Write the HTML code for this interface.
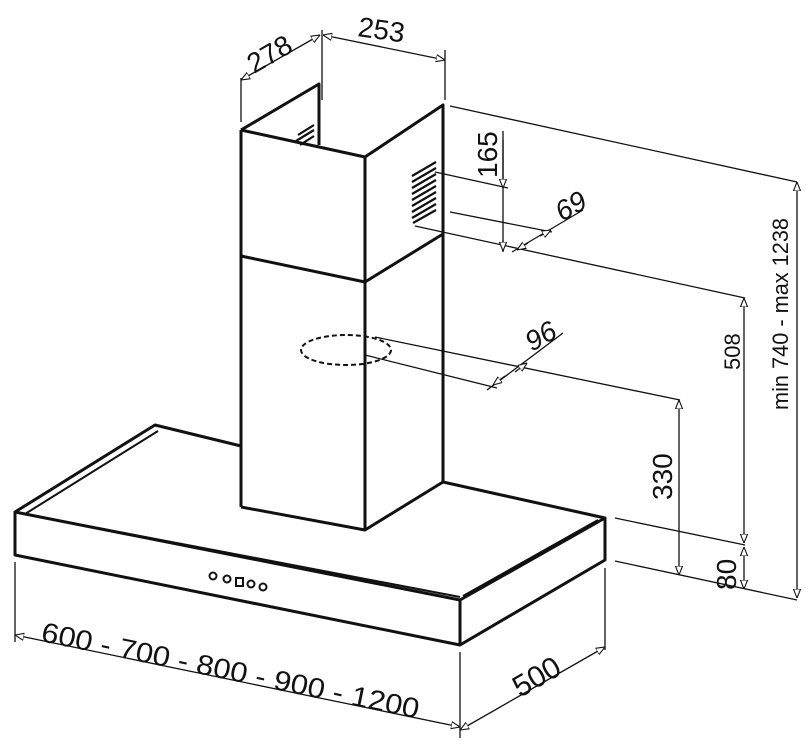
<!DOCTYPE html>
<html><head><style>
html,body{margin:0;padding:0;background:#fff;}
svg{display:block;}
text{font-family:"Liberation Sans",Arial,sans-serif;fill:#111;}
</style></head><body>
<svg width="806" height="746" viewBox="0 0 806 746" xmlns="http://www.w3.org/2000/svg">
<defs>
<marker id="a" viewBox="0 0 10 10" refX="10" refY="5" markerWidth="9" markerHeight="9" orient="auto-start-reverse" markerUnits="userSpaceOnUse">
<path d="M0,1 L10,5 L0,9 Z" fill="#fff" stroke="#111" stroke-width="1.2"/>
</marker>
</defs>
<g fill="none" stroke="#111" stroke-width="3" stroke-linejoin="round">
<path d="M241,130 L319,84 L319,145"/>
<path d="M241,130 L365,157 L443,105 L443,482"/>
<path d="M241,130 L241,507"/>
<path d="M365,157 L365,530"/>
<path d="M241,256 L365,282 L443,234"/>
<path d="M241,507 L365,530 L443,482"/>
<path d="M241,446 L155,425 L15,512 L460,600 L605,518 L443,482"/>
<path d="M15,512 L15,555 L460,645 L605,560 L605,518"/>
<path d="M460,600 L460,645"/>
<path d="M158,431 L25,514 M25,514 L460,597" stroke-width="2"/>
<path d="M463,596 L598,520" stroke-width="2"/>
</g>
<g stroke="#111" stroke-width="2.2">
<path d="M298,135 L314,125 M296,141 L314,130 M300,145 L314,136"/>
<path d="M412,176 L436,162 M412,182 L436,168 M412,188 L436,174 M412,194 L436,180 M412,200 L436,186 M412,206 L436,192 M412,212 L436,198 M412,218 L436,204 M413,223 L436,210"/>
</g>
<g fill="none" stroke="#111" stroke-width="2">
<circle cx="213" cy="576" r="3.5"/><circle cx="227" cy="579" r="3.5"/>
<rect x="236" y="578" width="7" height="8"/>
<circle cx="251" cy="584" r="3.5"/><circle cx="263" cy="587" r="3.5"/>
</g>
<ellipse cx="346" cy="350" rx="45" ry="15" fill="none" stroke="#111" stroke-width="2" stroke-dasharray="5,3"/>
<g fill="none" stroke="#111" stroke-width="1.3">
<path d="M241,78 L241,122 M322,30 L322,100 M445,50 L445,100"/>
<path d="M450,106 L797,182"/>
<path d="M435,172 L508,188"/>
<path d="M450,212 L552,232"/>
<path d="M415,226 L745,298"/>
<path d="M375,337 L680,400"/>
<path d="M365,355 L497,388"/>
<path d="M615,518 L745,545"/>
<path d="M615,561 L797,600"/>
<path d="M15,562 L15,642 M460,652 L460,738 M605,568 L605,650"/>
<path d="M503,131 L503,252"/>
</g>
<g fill="none" stroke="#111" stroke-width="1.3">
<line x1="241" y1="80" x2="320" y2="35" marker-start="url(#a)" marker-end="url(#a)"/>
<line x1="323" y1="35" x2="445" y2="60" marker-start="url(#a)" marker-end="url(#a)"/>
<line x1="503" y1="140" x2="503" y2="188" marker-end="url(#a)"/>
<line x1="503" y1="251" x2="503" y2="240" marker-start="url(#a)"/>
<line x1="512" y1="252" x2="583" y2="210"/>
<line x1="540" y1="236" x2="551" y2="230" marker-end="url(#a)"/>
<line x1="528" y1="243" x2="517" y2="250" marker-end="url(#a)"/>
<line x1="487" y1="390" x2="563" y2="333"/>
<line x1="505" y1="376" x2="493" y2="385" marker-end="url(#a)"/>
<line x1="515" y1="372" x2="527" y2="363" marker-end="url(#a)"/>
<line x1="797" y1="182" x2="797" y2="598" marker-start="url(#a)" marker-end="url(#a)"/>
<line x1="744" y1="298" x2="744" y2="543" marker-start="url(#a)" marker-end="url(#a)"/>
<line x1="744" y1="547" x2="744" y2="589" marker-start="url(#a)" marker-end="url(#a)"/>
<line x1="679" y1="400" x2="679" y2="575" marker-start="url(#a)" marker-end="url(#a)"/>
<line x1="15" y1="635" x2="460" y2="727" marker-start="url(#a)" marker-end="url(#a)"/>
<line x1="460" y1="730" x2="605" y2="647" marker-start="url(#a)" marker-end="url(#a)"/>
</g>
<g font-size="28">
<text transform="translate(254,74) rotate(-30)">278</text>
<text transform="translate(357,36) rotate(8)">253</text>
<text transform="translate(497,178) rotate(-90)">165</text>
<text transform="translate(562,222) rotate(-30)" font-style="italic">69</text>
<text transform="translate(532,352) rotate(-30)" font-style="italic">96</text>
<text transform="translate(672,500) rotate(-90)">330</text>
<text transform="translate(736,590) rotate(-90)">80</text>
<text transform="translate(740,370) rotate(-90)" font-size="22">508</text>
<text transform="translate(788,410) rotate(-90)" font-size="22" textLength="192" lengthAdjust="spacingAndGlyphs">min 740 - max 1238</text>
<text transform="translate(40,641) rotate(11.6)" textLength="385" lengthAdjust="spacingAndGlyphs">600 - 700 - 800 - 900 - 1200</text>
<text transform="translate(520,698) rotate(-30)" font-size="30">500</text>
</g>
</svg>
</body></html>
